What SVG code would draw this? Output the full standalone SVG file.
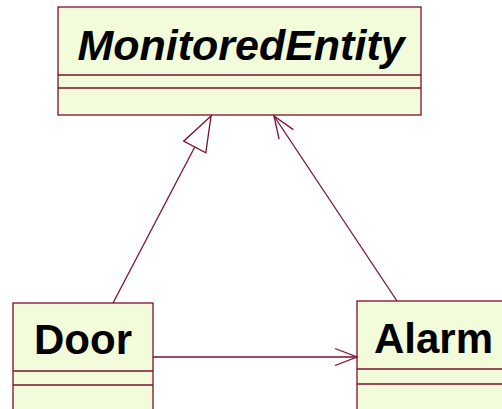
<svg xmlns="http://www.w3.org/2000/svg" width="502" height="409" viewBox="0 0 502 409">
  <style>
    .box { fill: #f3fcda; stroke: #7d0f2f; stroke-width: 1.3; }
    .div { stroke: #7d0f2f; stroke-width: 1.3; fill: none; }
    .name { font-family: "Liberation Sans", Arial, sans-serif; font-weight: bold; font-size: 42px; fill: #000; }
    .abstract { font-style: italic; font-size: 43px; }
    .link { stroke: #7d0f2f; stroke-width: 1.3; fill: none; }
  </style>
  <defs>
    <marker id="open-arrow" markerUnits="userSpaceOnUse" orient="auto" refX="0" refY="0" markerWidth="30" markerHeight="30" viewBox="-25 -12 30 24" overflow="visible">
      <path d="M-22,-8.5 L0,0 L-22,8.5" fill="none" stroke="#7d0f2f" stroke-width="1.3"/>
    </marker>
    <marker id="hollow-triangle" markerUnits="userSpaceOnUse" orient="auto" refX="0" refY="0" markerWidth="40" markerHeight="30" viewBox="-38 -15 40 30" overflow="visible">
      <path d="M0,0 L-35,-12.5 L-35,12.5 Z" fill="#ffffff" stroke="#7d0f2f" stroke-width="1.3"/>
    </marker>
  </defs>

  <g id="MonitoredEntity">
    <rect class="box" x="58" y="7" width="363" height="108"/>
    <line class="div" x1="58" y1="75" x2="421" y2="75"/>
    <line class="div" x1="58" y1="88" x2="421" y2="88"/>
    <text class="name abstract" x="241" y="60" text-anchor="middle">MonitoredEntity</text>
  </g>

  <g id="Door">
    <rect class="box" x="13" y="303" width="140" height="120"/>
    <line class="div" x1="13" y1="371" x2="153" y2="371"/>
    <line class="div" x1="13" y1="385" x2="153" y2="385"/>
    <text class="name" x="83" y="354" text-anchor="middle">Door</text>
  </g>

  <g id="Alarm">
    <rect class="box" x="357" y="301" width="160" height="120"/>
    <line class="div" x1="357" y1="369" x2="517" y2="369"/>
    <line class="div" x1="357" y1="384" x2="517" y2="384"/>
    <text class="name" x="374" y="353">Alarm</text>
  </g>

  <g id="connectors">
    <!-- Door generalizes MonitoredEntity -->
    <line class="link" x1="113" y1="303" x2="211" y2="116" marker-end="url(#hollow-triangle)"/>
    <!-- Alarm associates to MonitoredEntity -->
    <line class="link" x1="397" y1="301" x2="274" y2="116" marker-end="url(#open-arrow)"/>
    <!-- Door associates to Alarm -->
    <line class="link" x1="153" y1="357" x2="357" y2="357" marker-end="url(#open-arrow)"/>
  </g>
</svg>
